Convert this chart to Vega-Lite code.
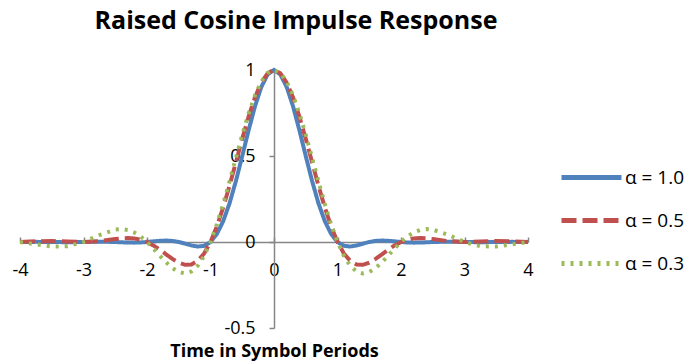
{
  "$schema": "https://vega.github.io/schema/vega-lite/v6.json",
  "width": 508,
  "height": 258,
  "autosize": {"type": "none"},
  "padding": {"left": 20, "top": 70, "right": 163, "bottom": 36},
  "background": "white",
  "title": {
    "text": "Raised Cosine Impulse Response",
    "font": "Open Sans",
    "fontSize": 25,
    "fontWeight": "bold",
    "color": "#000000",
    "anchor": "middle",
    "dx": 22,
    "offset": 27
  },
  "config": {"view": {"stroke": null}},
  "data": {
    "values": [
      {"t": -4, "s": "α = 1.0", "h": 0},
      {"t": -3.75, "s": "α = 1.0", "h": 0.0008},
      {"t": -3.5, "s": "α = 1.0", "h": 0},
      {"t": -3.25, "s": "α = 1.0", "h": -0.0012},
      {"t": -3, "s": "α = 1.0", "h": 0},
      {"t": -2.75, "s": "α = 1.0", "h": 0.002},
      {"t": -2.5, "s": "α = 1.0", "h": 0},
      {"t": -2.4, "s": "α = 1.0", "h": -0.0018},
      {"t": -2.3, "s": "α = 1.0", "h": -0.0033},
      {"t": -2.2, "s": "α = 1.0", "h": -0.0037},
      {"t": -2.1, "s": "α = 1.0", "h": -0.0027},
      {"t": -2, "s": "α = 1.0", "h": 0},
      {"t": -1.9, "s": "α = 1.0", "h": 0.0037},
      {"t": -1.8, "s": "α = 1.0", "h": 0.007},
      {"t": -1.7, "s": "α = 1.0", "h": 0.0084},
      {"t": -1.6, "s": "α = 1.0", "h": 0.0063},
      {"t": -1.5, "s": "α = 1.0", "h": 0},
      {"t": -1.4, "s": "α = 1.0", "h": -0.0098},
      {"t": -1.3, "s": "α = 1.0", "h": -0.0202},
      {"t": -1.2, "s": "α = 1.0", "h": -0.0265},
      {"t": -1.1, "s": "α = 1.0", "h": -0.0221},
      {"t": -1, "s": "α = 1.0", "h": 0},
      {"t": -0.9, "s": "α = 1.0", "h": 0.0464},
      {"t": -0.8, "s": "α = 1.0", "h": 0.1213},
      {"t": -0.7, "s": "α = 1.0", "h": 0.2252},
      {"t": -0.6, "s": "α = 1.0", "h": 0.3544},
      {"t": -0.5, "s": "α = 1.0", "h": 0.5},
      {"t": -0.4, "s": "α = 1.0", "h": 0.6496},
      {"t": -0.3, "s": "α = 1.0", "h": 0.7884},
      {"t": -0.2, "s": "α = 1.0", "h": 0.901},
      {"t": -0.1, "s": "α = 1.0", "h": 0.9745},
      {"t": 0, "s": "α = 1.0", "h": 1},
      {"t": 0.1, "s": "α = 1.0", "h": 0.9745},
      {"t": 0.2, "s": "α = 1.0", "h": 0.901},
      {"t": 0.3, "s": "α = 1.0", "h": 0.7884},
      {"t": 0.4, "s": "α = 1.0", "h": 0.6496},
      {"t": 0.5, "s": "α = 1.0", "h": 0.5},
      {"t": 0.6, "s": "α = 1.0", "h": 0.3544},
      {"t": 0.7, "s": "α = 1.0", "h": 0.2252},
      {"t": 0.8, "s": "α = 1.0", "h": 0.1213},
      {"t": 0.9, "s": "α = 1.0", "h": 0.0464},
      {"t": 1, "s": "α = 1.0", "h": 0},
      {"t": 1.1, "s": "α = 1.0", "h": -0.0221},
      {"t": 1.2, "s": "α = 1.0", "h": -0.0265},
      {"t": 1.3, "s": "α = 1.0", "h": -0.0202},
      {"t": 1.4, "s": "α = 1.0", "h": -0.0098},
      {"t": 1.5, "s": "α = 1.0", "h": 0},
      {"t": 1.6, "s": "α = 1.0", "h": 0.0063},
      {"t": 1.7, "s": "α = 1.0", "h": 0.0084},
      {"t": 1.8, "s": "α = 1.0", "h": 0.007},
      {"t": 1.9, "s": "α = 1.0", "h": 0.0037},
      {"t": 2, "s": "α = 1.0", "h": 0},
      {"t": 2.1, "s": "α = 1.0", "h": -0.0027},
      {"t": 2.2, "s": "α = 1.0", "h": -0.0037},
      {"t": 2.3, "s": "α = 1.0", "h": -0.0033},
      {"t": 2.4, "s": "α = 1.0", "h": -0.0018},
      {"t": 2.5, "s": "α = 1.0", "h": 0},
      {"t": 2.75, "s": "α = 1.0", "h": 0.002},
      {"t": 3, "s": "α = 1.0", "h": 0},
      {"t": 3.25, "s": "α = 1.0", "h": -0.0012},
      {"t": 3.5, "s": "α = 1.0", "h": 0},
      {"t": 3.75, "s": "α = 1.0", "h": 0.0008},
      {"t": 4, "s": "α = 1.0", "h": 0},

      {"t": -4, "s": "α = 0.5", "h": 0},
      {"t": -3.75, "s": "α = 0.5", "h": 0.0042},
      {"t": -3.5, "s": "α = 0.5", "h": 0.0057},
      {"t": -3.25, "s": "α = 0.5", "h": 0.0028},
      {"t": -3, "s": "α = 0.5", "h": 0},
      {"t": -2.75, "s": "α = 0.5", "h": 0.0048},
      {"t": -2.5, "s": "α = 0.5", "h": 0.0171},
      {"t": -2.4, "s": "α = 0.5", "h": 0.0214},
      {"t": -2.3, "s": "α = 0.5", "h": 0.0233},
      {"t": -2.2, "s": "α = 0.5", "h": 0.021},
      {"t": -2.1, "s": "α = 0.5", "h": 0.0136},
      {"t": -2, "s": "α = 0.5", "h": 0},
      {"t": -1.9, "s": "α = 0.5", "h": -0.0196},
      {"t": -1.8, "s": "α = 0.5", "h": -0.0441},
      {"t": -1.7, "s": "α = 0.5", "h": -0.0714},
      {"t": -1.6, "s": "α = 0.5", "h": -0.0981},
      {"t": -1.5, "s": "α = 0.5", "h": -0.12},
      {"t": -1.4, "s": "α = 0.5", "h": -0.1324},
      {"t": -1.3, "s": "α = 0.5", "h": -0.1303},
      {"t": -1.2, "s": "α = 0.5", "h": -0.1095},
      {"t": -1.1, "s": "α = 0.5", "h": -0.0666},
      {"t": -1, "s": "α = 0.5", "h": 0},
      {"t": -0.9, "s": "α = 0.5", "h": 0.09},
      {"t": -0.8, "s": "α = 0.5", "h": 0.2008},
      {"t": -0.7, "s": "α = 0.5", "h": 0.3275},
      {"t": -0.6, "s": "α = 0.5", "h": 0.4634},
      {"t": -0.5, "s": "α = 0.5", "h": 0.6002},
      {"t": -0.4, "s": "α = 0.5", "h": 0.7289},
      {"t": -0.3, "s": "α = 0.5", "h": 0.8405},
      {"t": -0.2, "s": "α = 0.5", "h": 0.9268},
      {"t": -0.1, "s": "α = 0.5", "h": 0.9813},
      {"t": 0, "s": "α = 0.5", "h": 1},
      {"t": 0.1, "s": "α = 0.5", "h": 0.9813},
      {"t": 0.2, "s": "α = 0.5", "h": 0.9268},
      {"t": 0.3, "s": "α = 0.5", "h": 0.8405},
      {"t": 0.4, "s": "α = 0.5", "h": 0.7289},
      {"t": 0.5, "s": "α = 0.5", "h": 0.6002},
      {"t": 0.6, "s": "α = 0.5", "h": 0.4634},
      {"t": 0.7, "s": "α = 0.5", "h": 0.3275},
      {"t": 0.8, "s": "α = 0.5", "h": 0.2008},
      {"t": 0.9, "s": "α = 0.5", "h": 0.09},
      {"t": 1, "s": "α = 0.5", "h": 0},
      {"t": 1.1, "s": "α = 0.5", "h": -0.0666},
      {"t": 1.2, "s": "α = 0.5", "h": -0.1095},
      {"t": 1.3, "s": "α = 0.5", "h": -0.1303},
      {"t": 1.4, "s": "α = 0.5", "h": -0.1324},
      {"t": 1.5, "s": "α = 0.5", "h": -0.12},
      {"t": 1.6, "s": "α = 0.5", "h": -0.0981},
      {"t": 1.7, "s": "α = 0.5", "h": -0.0714},
      {"t": 1.8, "s": "α = 0.5", "h": -0.0441},
      {"t": 1.9, "s": "α = 0.5", "h": -0.0196},
      {"t": 2, "s": "α = 0.5", "h": 0},
      {"t": 2.1, "s": "α = 0.5", "h": 0.0136},
      {"t": 2.2, "s": "α = 0.5", "h": 0.021},
      {"t": 2.3, "s": "α = 0.5", "h": 0.0233},
      {"t": 2.4, "s": "α = 0.5", "h": 0.0214},
      {"t": 2.5, "s": "α = 0.5", "h": 0.0171},
      {"t": 2.75, "s": "α = 0.5", "h": 0.0048},
      {"t": 3, "s": "α = 0.5", "h": 0},
      {"t": 3.25, "s": "α = 0.5", "h": 0.0028},
      {"t": 3.5, "s": "α = 0.5", "h": 0.0057},
      {"t": 3.75, "s": "α = 0.5", "h": 0.0042},
      {"t": 4, "s": "α = 0.5", "h": 0},

      {"t": -4, "s": "α = 0.3", "h": 0},
      {"t": -3.75, "s": "α = 0.3", "h": -0.0136},
      {"t": -3.5, "s": "α = 0.3", "h": -0.0263},
      {"t": -3.25, "s": "α = 0.3", "h": -0.0247},
      {"t": -3, "s": "α = 0.3", "h": 0},
      {"t": -2.75, "s": "α = 0.3", "h": 0.0405},
      {"t": -2.5, "s": "α = 0.3", "h": 0.072},
      {"t": -2.4, "s": "α = 0.3", "h": 0.0749},
      {"t": -2.3, "s": "α = 0.3", "h": 0.0696},
      {"t": -2.2, "s": "α = 0.3", "h": 0.0552},
      {"t": -2.1, "s": "α = 0.3", "h": 0.0316},
      {"t": -2, "s": "α = 0.3", "h": 0},
      {"t": -1.9, "s": "α = 0.3", "h": -0.0377},
      {"t": -1.8, "s": "α = 0.3", "h": -0.0782},
      {"t": -1.7, "s": "α = 0.3", "h": -0.1177},
      {"t": -1.6, "s": "α = 0.3", "h": -0.1516},
      {"t": -1.5, "s": "α = 0.3", "h": -0.1747},
      {"t": -1.4, "s": "α = 0.3", "h": -0.1826},
      {"t": -1.3, "s": "α = 0.3", "h": -0.1713},
      {"t": -1.2, "s": "α = 0.3", "h": -0.1378},
      {"t": -1.1, "s": "α = 0.3", "h": -0.0806},
      {"t": -1, "s": "α = 0.3", "h": 0},
      {"t": -0.9, "s": "α = 0.3", "h": 0.102},
      {"t": -0.8, "s": "α = 0.3", "h": 0.2216},
      {"t": -0.7, "s": "α = 0.3", "h": 0.353},
      {"t": -0.6, "s": "α = 0.3", "h": 0.4895},
      {"t": -0.5, "s": "α = 0.3", "h": 0.6233},
      {"t": -0.4, "s": "α = 0.3", "h": 0.7467},
      {"t": -0.3, "s": "α = 0.3", "h": 0.8519},
      {"t": -0.2, "s": "α = 0.3", "h": 0.9324},
      {"t": -0.1, "s": "α = 0.3", "h": 0.9828},
      {"t": 0, "s": "α = 0.3", "h": 1},
      {"t": 0.1, "s": "α = 0.3", "h": 0.9828},
      {"t": 0.2, "s": "α = 0.3", "h": 0.9324},
      {"t": 0.3, "s": "α = 0.3", "h": 0.8519},
      {"t": 0.4, "s": "α = 0.3", "h": 0.7467},
      {"t": 0.5, "s": "α = 0.3", "h": 0.6233},
      {"t": 0.6, "s": "α = 0.3", "h": 0.4895},
      {"t": 0.7, "s": "α = 0.3", "h": 0.353},
      {"t": 0.8, "s": "α = 0.3", "h": 0.2216},
      {"t": 0.9, "s": "α = 0.3", "h": 0.102},
      {"t": 1, "s": "α = 0.3", "h": 0},
      {"t": 1.1, "s": "α = 0.3", "h": -0.0806},
      {"t": 1.2, "s": "α = 0.3", "h": -0.1378},
      {"t": 1.3, "s": "α = 0.3", "h": -0.1713},
      {"t": 1.4, "s": "α = 0.3", "h": -0.1826},
      {"t": 1.5, "s": "α = 0.3", "h": -0.1747},
      {"t": 1.6, "s": "α = 0.3", "h": -0.1516},
      {"t": 1.7, "s": "α = 0.3", "h": -0.1177},
      {"t": 1.8, "s": "α = 0.3", "h": -0.0782},
      {"t": 1.9, "s": "α = 0.3", "h": -0.0377},
      {"t": 2, "s": "α = 0.3", "h": 0},
      {"t": 2.1, "s": "α = 0.3", "h": 0.0316},
      {"t": 2.2, "s": "α = 0.3", "h": 0.0552},
      {"t": 2.3, "s": "α = 0.3", "h": 0.0696},
      {"t": 2.4, "s": "α = 0.3", "h": 0.0749},
      {"t": 2.5, "s": "α = 0.3", "h": 0.072},
      {"t": 2.75, "s": "α = 0.3", "h": 0.0405},
      {"t": 3, "s": "α = 0.3", "h": 0},
      {"t": 3.25, "s": "α = 0.3", "h": -0.0247},
      {"t": 3.5, "s": "α = 0.3", "h": -0.0263},
      {"t": 3.75, "s": "α = 0.3", "h": -0.0136},
      {"t": 4, "s": "α = 0.3", "h": 0}
    ]
  },
  "mark": {"type": "line", "strokeWidth": 4, "interpolate": "linear"},
  "encoding": {
    "x": {
      "field": "t",
      "type": "quantitative",
      "scale": {"domain": [-4, 4], "nice": false, "zero": false},
      "axis": {
        "orient": "bottom",
        "offset": -86,
        "values": [-4, -3, -2, -1, 0, 1, 2, 3, 4],
        "labelExpr": "'' + datum.value",
        "labelFlush": false,
        "labelOverlap": false,
        "grid": false,
        "domainColor": "#868686",
        "domainWidth": 1.5,
        "tickColor": "#868686",
        "tickWidth": 1.5,
        "tickSize": -5,
        "labelPadding": 24,
        "labelFont": "Open Sans",
        "labelFontSize": 18,
        "labelColor": "#000000",
        "title": "Time in Symbol Periods",
        "titleFont": "Open Sans",
        "titleFontSize": 18,
        "titleFontWeight": "bold",
        "titleColor": "#000000",
        "titleY": 114,
        "titleBaseline": "alphabetic"
      }
    },
    "y": {
      "field": "h",
      "type": "quantitative",
      "scale": {"domain": [-0.5, 1], "nice": false, "zero": false},
      "axis": {
        "orient": "left",
        "offset": -254,
        "values": [-0.5, 0, 0.5, 1],
        "labelExpr": "'' + datum.value",
        "labelFlush": false,
        "labelOverlap": false,
        "grid": false,
        "domainColor": "#868686",
        "domainWidth": 1.5,
        "tickColor": "#868686",
        "tickWidth": 1.5,
        "tickSize": 5,
        "labelPadding": 14,
        "labelFont": "Open Sans",
        "labelFontSize": 18,
        "labelColor": "#000000",
        "title": null
      }
    },
    "color": {
      "field": "s",
      "type": "nominal",
      "sort": null,
      "scale": {
        "domain": ["α = 1.0", "α = 0.5", "α = 0.3"],
        "range": ["#4F81BD", "#C0504D", "#9BBB59"]
      },
      "legend": {
        "title": null,
        "orient": "none",
        "legendX": 539,
        "legendY": 75,
        "symbolType": "stroke",
        "symbolSize": 3600,
        "symbolStrokeWidth": 5,
        "labelFont": "Open Sans",
        "labelFontSize": 19,
        "labelColor": "#000000",
        "labelOffset": 1,
        "rowPadding": -2
      }
    },
    "strokeDash": {
      "field": "s",
      "type": "nominal",
      "sort": null,
      "scale": {
        "domain": ["α = 1.0", "α = 0.5", "α = 0.3"],
        "range": [[1, 0], [15, 6], [3, 6]]
      },
      "legend": {
        "title": null,
        "orient": "none",
        "legendX": 539,
        "legendY": 75,
        "symbolType": "stroke",
        "symbolSize": 3600,
        "symbolStrokeWidth": 5,
        "labelFont": "Open Sans",
        "labelFontSize": 19,
        "labelColor": "#000000",
        "labelOffset": 1,
        "rowPadding": -2
      }
    }
  }
}
